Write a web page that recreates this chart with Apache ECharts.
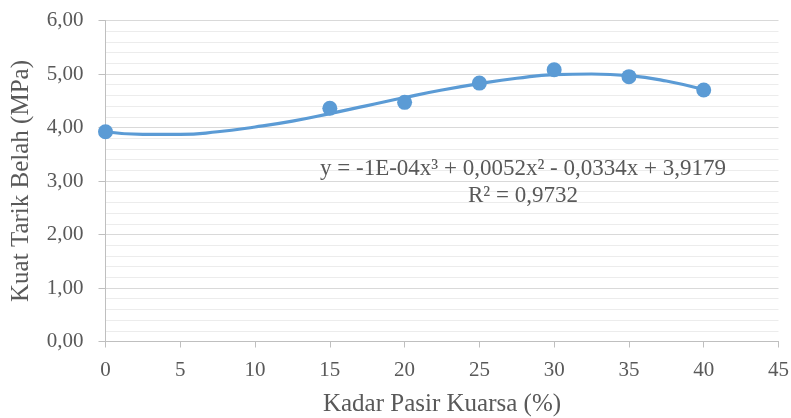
<!DOCTYPE html>
<html>
<head>
<meta charset="utf-8">
<script src="https://cdn.jsdelivr.net/npm/echarts@6/dist/echarts.min.js"></script>
<style>html,body{margin:0;padding:0;background:#fff}#c{width:791px;height:418px}</style>
</head>
<body>
<div id="c"></div>
<script>
// Measured points
const xData = [0, 15, 20, 25, 30, 35, 40];
const yData = [3.92, 4.36, 4.47, 4.83, 5.08, 4.95, 4.70];
// Trendline
const trendX = [0, 2.5, 5, 7.5, 10, 12.5, 15, 17.5, 20, 22.5, 25, 27.5, 30, 32.5, 35, 37.5, 40];
const trendY = [3.92, 3.87, 3.87, 3.92, 4.01, 4.12, 4.26, 4.41, 4.56, 4.70, 4.82, 4.92, 4.99, 5.00, 4.97, 4.87, 4.71];
const eqLine1 = 'y = -1E-04x³ + 0,0052x² - 0,0334x + 3,9179';
const eqLine2 = 'R² = 0,9732';
const xTitle = 'Kadar Pasir Kuarsa (%)';
const yTitle = 'Kuat Tarik Belah (MPa)';

const FONT = '"Liberation Serif", "DejaVu Serif", serif';
const GRAY = '#595959';
const BLUE = '#5b9bd5';

const chart = echarts.init(document.getElementById('c'), null, {renderer: 'canvas'});
chart.setOption({
  animation: false,
  grid: {left: 105.5, right: 12.5, top: 20.5, bottom: 76.5, containLabel: false, outerBoundsMode: 'none'},
  xAxis: {
    type: 'value', min: 0, max: 45, interval: 5,
    name: xTitle, nameLocation: 'middle', nameGap: 50,
    nameTextStyle: {fontFamily: FONT, fontSize: 25, color: GRAY},
    axisLine: {show: true, lineStyle: {color: '#bfbfbf', width: 1}},
    axisTick: {show: true, length: 6, lineStyle: {color: '#bfbfbf'}},
    axisLabel: {fontFamily: FONT, fontSize: 21, color: GRAY, margin: 18},
    splitLine: {show: false}
  },
  yAxis: {
    type: 'value', min: 0, max: 6, interval: 1,
    name: yTitle, nameLocation: 'middle', nameGap: 72,
    nameTextStyle: {fontFamily: FONT, fontSize: 25, color: GRAY},
    axisLine: {show: true, lineStyle: {color: '#bfbfbf', width: 1}},
    axisTick: {show: true, length: 7, lineStyle: {color: '#bfbfbf'}},
    axisLabel: {fontFamily: FONT, fontSize: 21, color: GRAY, margin: 22,
      formatter: v => v.toFixed(2).replace('.', ',')},
    splitLine: {show: true, lineStyle: {color: '#d9d9d9', width: 1}},
    minorTick: {show: false, splitNumber: 5},
    minorSplitLine: {show: true, lineStyle: {color: '#ececec', width: 1}}
  },
  series: [
    {
      type: 'line', data: trendX.map((x, i) => [x, trendY[i]]),
      smooth: true, showSymbol: false, symbol: 'none',
      lineStyle: {color: BLUE, width: 3.2}, z: 2
    },
    {
      type: 'scatter', data: xData.map((x, i) => [x, yData[i]]),
      symbol: 'circle', symbolSize: 15,
      itemStyle: {color: BLUE, opacity: 1}, z: 3
    }
  ],
  graphic: [
    {type: 'text', x: 523, y: 169, z: 10,
      style: {text: eqLine1, font: '23px ' + FONT, fill: GRAY, align: 'center', verticalAlign: 'middle'}},
    {type: 'text', x: 523, y: 196, z: 10,
      style: {text: eqLine2, font: '23px ' + FONT, fill: GRAY, align: 'center', verticalAlign: 'middle'}}
  ]
});
</script>
</body>
</html>
